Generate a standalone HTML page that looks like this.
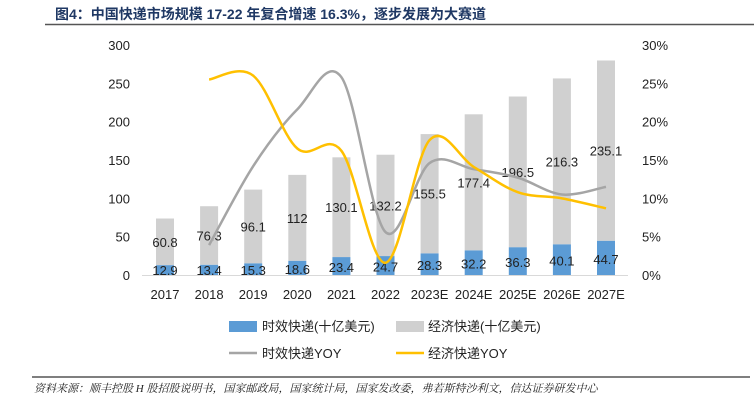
<!DOCTYPE html>
<html><head><meta charset="utf-8">
<style>
body{margin:0;background:#fff;}
svg{display:block;font-family:"Liberation Sans","Noto Sans CJK SC",sans-serif;}
</style></head>
<body>
<svg id="c" width="754" height="413" viewBox="0 0 754 413" xmlns="http://www.w3.org/2000/svg">
<text x="55" y="19" font-size="14" font-weight="bold" fill="#1f3864">图4：中国快递市场规模 17-22 年复合增速 16.3%，逐步发展为大赛道</text>
<line x1="45" y1="24.5" x2="754" y2="24.5" stroke="#555" stroke-width="1.5"/>
<line x1="32" y1="377" x2="750" y2="377" stroke="#555" stroke-width="1.5"/>
<text x="34" y="392" font-size="11" font-style="italic" fill="#222" font-family="'Liberation Serif','Noto Serif CJK SC',serif">资料来源：顺丰控股 H 股招股说明书，国家邮政局，国家统计局，国家发改委，弗若斯特沙利文，信达证券研发中心</text>
<g id="plot"></g>
<g>
<rect x="229" y="321" width="28" height="11" fill="#5b9bd5"/>
<text x="262" y="331" font-size="13" fill="#222">时效快递(十亿美元)</text>
<rect x="396" y="321" width="28" height="11" fill="#d0d0d0"/>
<text x="428" y="331" font-size="13" fill="#222">经济快递(十亿美元)</text>
<line x1="229" y1="353" x2="257" y2="353" stroke="#a5a5a5" stroke-width="2.5"/>
<text x="262" y="358" font-size="13" fill="#222">时效快递YOY</text>
<line x1="396" y1="353" x2="424" y2="353" stroke="#ffc000" stroke-width="2.5"/>
<text x="428" y="358" font-size="13" fill="#222">经济快递YOY</text>
</g>
</svg>
<script>
const categories=["2017","2018","2019","2020","2021","2022","2023E","2024E","2025E","2026E","2027E"];
const timelyValues=[12.9,13.4,15.3,18.6,23.4,24.7,28.3,32.2,36.3,40.1,44.7];
const economyValues=[60.8,76.3,96.1,112,130.1,132.2,155.5,177.4,196.5,216.3,235.1];
const timelyYoy=[null,3.9,14.2,21.6,25.8,5.6,14.6,13.8,12.7,10.5,11.5];
const economyYoy=[null,25.5,26.0,16.5,16.2,1.6,17.6,14.1,10.8,10.0,8.7];
const leftTicks=[0,50,100,150,200,250,300];
const rightTicks=[0,5,10,15,20,25,30];

const NS="http://www.w3.org/2000/svg";
const g=document.getElementById("plot");
const x0=165,step=44.1,yBase=275,yTop=45;
const xs=i=>x0+i*step;
const yL=v=>yBase-(v/300)*(yBase-yTop);
const yR=v=>yBase-(v/30)*(yBase-yTop);
function mk(t,a,txt){const e=document.createElementNS(NS,t);for(const k in a)e.setAttribute(k,a[k]);if(txt!=null)e.textContent=txt;g.appendChild(e);return e;}

leftTicks.forEach(v=>{const e=mk("text",{x:130,y:yL(v)+5,"font-size":13,"text-anchor":"end",fill:"#222"},v);

});
rightTicks.forEach(v=>{const e=mk("text",{x:642,y:yR(v)+5,"font-size":13,fill:"#222"},v+"%");

});
categories.forEach((c,i)=>{const e=mk("text",{x:xs(i),y:299,"font-size":13,"text-anchor":"middle",fill:"#222"},c);

});

const bw=18;
categories.forEach((c,i)=>{
  const t=timelyValues[i],e=economyValues[i];
  const b1=mk("rect",{x:xs(i)-bw/2,y:yL(t),width:bw,height:yBase-yL(t),fill:"#5b9bd5"});
  
  
  const b2=mk("rect",{x:xs(i)-bw/2,y:yL(t+e),width:bw,height:yL(t)-yL(t+e),fill:"#d0d0d0"});
  
  
  const l1=mk("text",{x:xs(i),y:Math.min((yL(t)+yBase)/2+6,yBase),"font-size":13,"text-anchor":"middle",fill:"#222"},t);
  
  
  const l2=mk("text",{x:xs(i),y:(yL(t)+yL(t+e))/2+5,"font-size":13,"text-anchor":"middle",fill:"#222"},e);
  
  
});
mk("line",{x1:142,y1:yBase+0.5,x2:628,y2:yBase+0.5,stroke:"#d9d9d9"});

function smooth(arr){
  const p=[];arr.forEach((v,i)=>{if(v!=null)p.push([xs(i),yR(v)]);});
  let d="M"+p[0][0]+","+p[0][1];
  for(let i=0;i<p.length-1;i++){
    const a=p[i-1]||p[i],b=p[i],c=p[i+1],e=p[i+2]||c;
    const c1=[b[0]+(c[0]-a[0])/6,b[1]+(c[1]-a[1])/6],c2=[c[0]-(e[0]-b[0])/6,c[1]-(e[1]-b[1])/6];
    d+=` C${c1[0]},${c1[1]} ${c2[0]},${c2[1]} ${c[0]},${c[1]}`;
  }
  return d;
}
const p1=mk("path",{d:smooth(timelyYoy),fill:"none",stroke:"#a5a5a5","stroke-width":2.5});


const p2=mk("path",{d:smooth(economyYoy),fill:"none",stroke:"#ffc000","stroke-width":2.5});


</script>
</body></html>
